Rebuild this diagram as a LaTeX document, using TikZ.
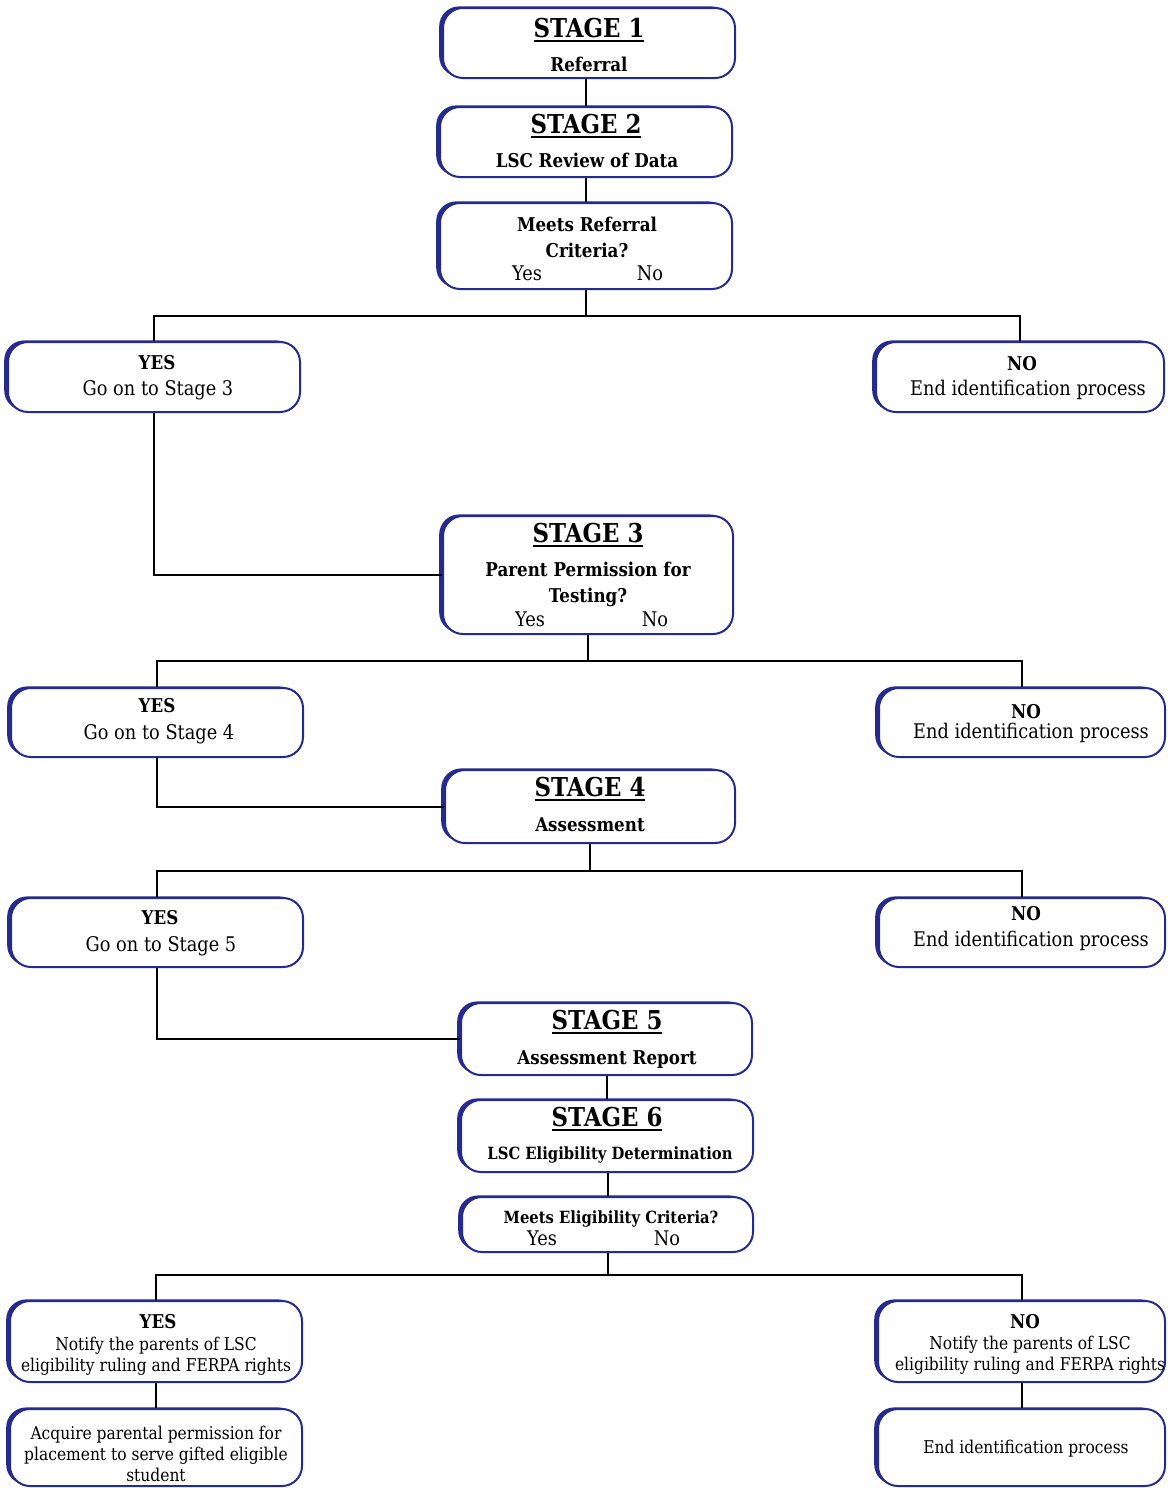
\documentclass[tikz,border=0pt]{standalone}
\usepackage{fontspec}
\setmainfont{DejaVu Serif}[FakeStretch=0.88]
\usetikzlibrary{shadows}
\definecolor{navy}{RGB}{38,42,140}
\newcommand\hdul[1]{\setbox0\hbox{#1}\rlap{\rule[-2.6pt]{\wd0}{1pt}}\box0}
\tikzset{
  bx/.style={draw=navy, line width=1pt, fill=white, rounded corners=10pt, inner sep=0pt,
    general shadow={fill=navy, shadow xshift=-1.9pt, shadow yshift=0.8pt}},
  link/.style={draw=black, line width=1pt},
  tr/.style={inner sep=0pt, anchor=mid, font=\fontsize{10.1}{11}\selectfont},
  ts/.style={inner sep=0pt, anchor=mid, font=\fontsize{8.8}{10}\selectfont},
  tb/.style={inner sep=0pt, anchor=mid, font=\fontsize{9.5}{11}\bfseries\selectfont},
  tbs/.style={inner sep=0pt, anchor=mid, font=\fontsize{8.4}{10}\bfseries\selectfont},
  hd/.style={inner sep=0pt, anchor=mid, font=\fontsize{13}{15}\bfseries\selectfont},
}
\newcommand\bxn[5]{\node[bx, minimum width=#4*0.5pt, minimum height=#5*0.5pt] (#1) at (#2,#3) {};}
\begin{document}
\begin{tikzpicture}[x=0.5pt,y=-0.5pt]
\useasboundingbox[fill=white] (0,0) rectangle (1167,1488);
% junctions
\coordinate (j1) at (586,316);
\coordinate (j2) at (588,661);
\coordinate (j3) at (590,871);
\coordinate (j4) at (607.5,1275);
% boxes
\bxn{s1}{589}{43}{292}{70}
\bxn{s2}{586}{142}{292}{70}
\bxn{c1}{586}{246}{292}{86}
\bxn{y1}{154}{377}{292}{70}
\bxn{n1}{1020}{377}{288}{70}
\bxn{s3}{588}{575}{290}{118}
\bxn{y2}{157}{722.5}{292}{69}
\bxn{n2}{1022}{722.5}{286}{69}
\bxn{s4}{590}{806.5}{290}{73}
\bxn{y3}{157}{932.5}{292}{69}
\bxn{n3}{1022}{932.5}{286}{69}
\bxn{s5}{606.5}{1039}{291}{72}
\bxn{s6}{607}{1136}{292}{72}
\bxn{c2}{607.5}{1224.5}{291}{55}
\bxn{y4}{156}{1341.5}{292}{81}
\bxn{a4}{156}{1447.5}{292}{77}
\bxn{n4}{1021.5}{1341.5}{287}{81}
\bxn{e4}{1021.5}{1447.5}{287}{77}
% connectors
\draw[link] (s2.north) -- (s2.north |- s1.south);
\draw[link] (s2.south) -- (c1.north);
\draw[link] (c1.south) -- (j1);
\draw[link] (y1.north) |- (j1) -| (n1.north);
\draw[link] (y1.south) |- (s3.west);
\draw[link] (s3.south) -- (j2);
\draw[link] (y2.north) |- (j2) -| (n2.north);
\draw[link] (y2.south) |- (s4.west);
\draw[link] (s4.south) -- (j3);
\draw[link] (y3.north) |- (j3) -| (n3.north);
\draw[link] (y3.south) |- (s5.west);
\draw[link] (s6.north) -- (s6.north |- s5.south);
\draw[link] (c2.north) -- (c2.north |- s6.south);
\draw[link] (c2.south) -- (j4);
\draw[link] (y4.north) |- (j4) -| (n4.north);
\draw[link] (y4.south) -- (a4.north);
\draw[link] (n4.south) -- (e4.north);
% texts
\node[hd] (s1a) at (589,32) {\hdul{STAGE 1}};
\node[tb] (s1b) at (589,66) {Referral};
\node[hd] (s2a) at (586,128) {\hdul{STAGE 2}};
\node[tb] (s2b) at (587,162) {LSC Review of Data};
\node[tb] (c1a) at (587,226) {Meets Referral};
\node[tb] (c1b) at (587,252) {Criteria?};
\node[tr] (c1y) at (527,275) {Yes};
\node[tr] (c1n) at (650,275) {No};
\node[tb] (y1a) at (157,364) {YES};
\node[tr] (y1b) at (158,390) {Go on to Stage 3};
\node[tb] (n1a) at (1022,365) {NO};
\node[tr] (n1b) at (1028,390) {End identification process};
\node[hd] (s3a) at (588,537) {\hdul{STAGE 3}};
\node[tb] (s3b) at (588,571) {Parent Permission for};
\node[tb] (s3c) at (588,597) {Testing?};
\node[tr] (s3y) at (530,621) {Yes};
\node[tr] (s3n) at (655,621) {No};
\node[tb] (y2a) at (157,707) {YES};
\node[tr] (y2b) at (159,734) {Go on to Stage 4};
\node[tb] (n2a) at (1026,713) {NO};
\node[tr] (n2b) at (1031,733) {End identification process};
\node[hd] (s4a) at (590,791) {\hdul{STAGE 4}};
\node[tb] (s4b) at (590,826) {Assessment};
\node[tb] (y3a) at (160,919) {YES};
\node[tr] (y3b) at (161,946) {Go on to Stage 5};
\node[tb] (n3a) at (1026,915) {NO};
\node[tr] (n3b) at (1031,941) {End identification process};
\node[hd] (s5a) at (607,1024) {\hdul{STAGE 5}};
\node[tb] (s5b) at (607,1059) {Assessment Report};
\node[hd] (s6a) at (607,1121) {\hdul{STAGE 6}};
\node[tbs] (s6b) at (610,1154) {LSC Eligibility Determination};
\node[tbs] (c2a) at (611,1218) {Meets Eligibility Criteria?};
\node[tr] (c2y) at (542,1240) {Yes};
\node[tr] (c2n) at (667,1240) {No};
\node[tb] (y4a) at (158,1323) {YES};
\node[ts] (y4b) at (156,1345) {Notify the parents of LSC};
\node[ts] (y4c) at (156,1366) {eligibility ruling and FERPA rights};
\node[ts] (a4a) at (156,1434) {Acquire parental permission for};
\node[ts] (a4b) at (156,1455) {placement to serve gifted eligible};
\node[ts] (a4c) at (156,1476) {student};
\node[tb] (n4a) at (1025,1323) {NO};
\node[ts] (n4b) at (1030,1344) {Notify the parents of LSC};
\node[ts] (n4c) at (1030,1365) {eligibility ruling and FERPA rights};
\node[ts] (e4a) at (1026,1448) {End identification process};
\end{tikzpicture}
\end{document}
